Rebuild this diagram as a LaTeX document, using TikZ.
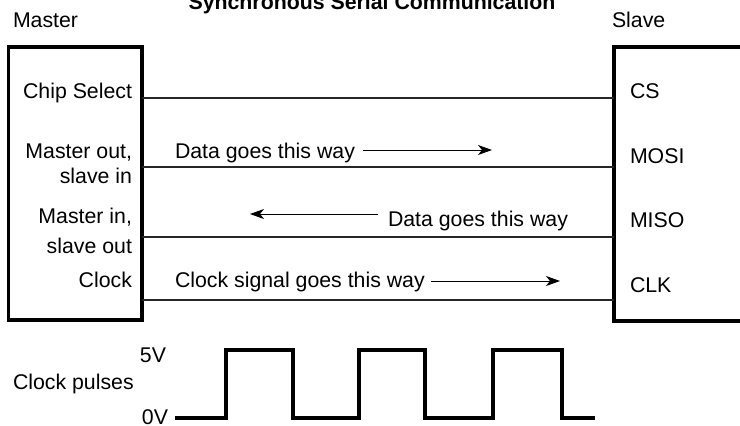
\documentclass[tikz,border=0pt]{standalone}
\usepackage{fontspec}
\setmainfont{Liberation Sans}
\usetikzlibrary{arrows.meta,positioning}

\begin{document}
\begin{tikzpicture}[x=1pt,y=-1pt,
	every node/.style={font=\fontsize{21.3}{25}\selectfont,inner sep=0pt,outer sep=0pt},
	chip/.style={draw,line width=3.3pt,anchor=north west},
	wire/.style={line width=1.3pt,draw=black!85},
	flow/.style={line width=1pt,-{Stealth[length=14pt,width=10pt,inset=4pt]}},
	pulse/.style={line width=3.3pt},
	mlbl/.style={anchor=base east,align=right},
	slbl/.style={anchor=base west}]
			\useasboundingbox (0,0) rectangle (740,426);
			\node[anchor=base,font=\fontsize{21.3}{25}\selectfont\bfseries](title) at (372,9) {Synchronous Serial Communication};
			\node[anchor=base west](mtitle) at (13,27) {Master};
			\node[anchor=base west](stitle) at (612,27) {Slave};
			\node[chip,minimum width=133.5pt,minimum height=273pt](master) at (8.5,47) {};
			\node[chip,minimum width=140pt,minimum height=274pt](slave) at (614,47) {};
			% master side
			\node[mlbl](mcs) at (132,98) {Chip Select};
			\node[mlbl](mmosi) at (132,183) {Master out,\\slave in};
			\node[mlbl](mmiso) at (132,253) {Master in,\\[5pt]slave out};
			\node[mlbl](mclk) at (132,287) {Clock};
			% slave side
			\node[slbl](scs) at (630,98) {CS};
			\node[slbl](smosi) at (630,163) {MOSI};
			\node[slbl](smiso) at (630,227) {MISO};
			\node[slbl](sclk) at (630,292) {CLK};
			% wires
			\coordinate (wcs) at (0,98);
			\coordinate (wmosi) at (0,167);
			\coordinate (wmiso) at (0,237);
			\coordinate (wclk) at (0,300);
			\path[wire]
			(master.east |- wcs) edge (slave.west |- wcs)
			(master.east |- wmosi) edge (slave.west |- wmosi)
			(master.east |- wmiso) edge (slave.west |- wmiso)
			(master.east |- wclk) edge (slave.west |- wclk);
			% direction of data
			\node[anchor=base west](dataout) at (175,158) {Data goes this way};
			\node[anchor=base west](datain) at (388,226) {Data goes this way};
			\node[anchor=base west](clksig) at (175,287) {Clock signal goes this way};
			\coordinate (tout) at (492,150);
			\coordinate (tin) at (250,214);
			\coordinate (tclk) at (560,281);
			\draw[flow] (dataout.east |- tout) ++(8,0) -- (tout);
			\draw[flow] (datain.west |- tin) ++(-10,0) -- (tin);
			\draw[flow] (clksig.east |- tclk) ++(6,0) -- (tclk);
			% clock pulses
			\node[anchor=base west](pulses) at (13,389) {Clock pulses};
			\node[anchor=base east](high) at (166,362) {5V};
			\node[anchor=base east](low) at (168,424) {0V};
			\coordinate (lo) at (175,418);
			\draw[pulse] (lo) -- ++(51,0) -- ++(0,-68) -- ++(67,0) -- ++(0,68) -- ++(66,0) -- ++(0,-68) -- ++(66,0)
			-- ++(0,68) -- ++(68,0) -- ++(0,-68) -- ++(69,0) -- ++(0,68) -- ++(33,0);
\end{tikzpicture}
\end{document}
